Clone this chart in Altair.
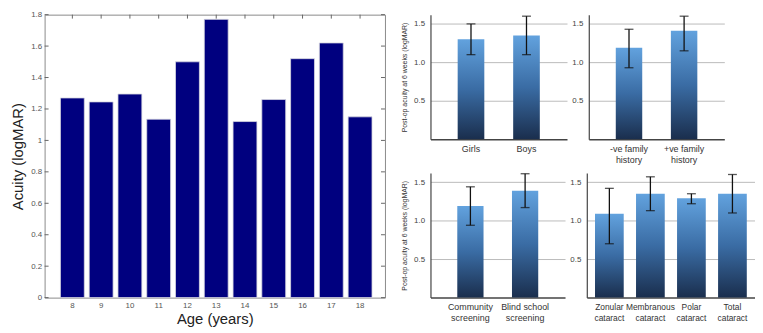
import altair as alt
import pandas as pd

# ---- left chart data ----
ages = [8, 9, 10, 11, 12, 13, 14, 15, 16, 17, 18]
acuity = [1.27, 1.245, 1.295, 1.135, 1.50, 1.77, 1.12, 1.26, 1.52, 1.62, 1.15]
y_ticks = [0, 0.2, 0.4, 0.6, 0.8, 1.0, 1.2, 1.4, 1.6, 1.8]

# ---- right panels data ----
sex_cats = ["Girls", "Boys"]
sex_mean = [1.30, 1.35]
sex_lo = [1.10, 1.10]
sex_hi = [1.50, 1.60]

fam_cats = ["-ve family history", "+ve family history"]
fam_mean = [1.19, 1.41]
fam_lo = [0.93, 1.15]
fam_hi = [1.43, 1.60]

scr_cats = ["Community screening", "Blind school screening"]
scr_mean = [1.19, 1.39]
scr_lo = [0.94, 1.17]
scr_hi = [1.44, 1.61]

cat_cats = ["Zonular cataract", "Membranous cataract", "Polar cataract", "Total cataract"]
cat_mean = [1.09, 1.35, 1.29, 1.35]
cat_lo = [0.70, 1.13, 1.22, 1.10]
cat_hi = [1.42, 1.57, 1.35, 1.60]

FONT = "Liberation Sans"
LW, LH = 344, 286

left_df = pd.DataFrame({"age": ages, "acuity": acuity})
tick_df = pd.DataFrame({"acuity": y_ticks})

xscale_left = alt.Scale(paddingInner=0.17, paddingOuter=0.5, align=0.55)
yscale_left = alt.Scale(domain=[0, 1.8], nice=False)
xaxis_left = alt.Axis(labelAngle=0, labelFontSize=8, labelColor="#555",
                      titleFontSize=15, titleFontWeight="normal", titleColor="#222",
                      titlePadding=2, tickSize=0, domain=False, labelPadding=4)
yaxis_left = alt.Axis(values=y_ticks, labelOverlap=False,
                      format=".2~f", labelFontSize=8, labelColor="#555",
                      titleFontSize=15, titleFontWeight="normal", titleColor="#222",
                      tickSize=0, domain=False, grid=False, titlePadding=5, labelPadding=3)
X_LEFT = alt.X("age:O", title="Age (years)", scale=xscale_left, axis=xaxis_left)
Y_LEFT = alt.Y("acuity:Q", title="Acuity (logMAR)", scale=yscale_left, axis=yaxis_left)

left_bars = alt.Chart(left_df).mark_bar(
    color="#00007f", stroke="#d8d8e0", strokeWidth=0.8
).encode(x=X_LEFT, y=Y_LEFT)
top_ticks = alt.Chart(left_df).mark_rule(color="#666", strokeWidth=1).encode(
    x=X_LEFT, y=alt.value(0), y2=alt.value(4))
left_ticks = alt.Chart(tick_df).mark_rule(color="#666", strokeWidth=1).encode(
    x=alt.value(0), x2=alt.value(4), y=Y_LEFT)
right_ticks = alt.Chart(tick_df).mark_rule(color="#666", strokeWidth=1).encode(
    x=alt.value(LW - 4), x2=alt.value(LW), y=Y_LEFT)

left = alt.layer(left_bars, top_ticks, left_ticks, right_ticks).properties(
    width=LW, height=LH, view=alt.ViewBackground(stroke="#8a8a8a", strokeWidth=1)
)

grad = alt.Gradient(
    gradient="linear",
    stops=[alt.GradientStop(color="#1a2e4d", offset=0),
           alt.GradientStop(color="#3a6ca4", offset=0.5),
           alt.GradientStop(color="#62a2de", offset=1)],
    x1=0, x2=0, y1=1, y2=0,
)

label_expr = ("indexof(datum.label, ' ') < 0 ? datum.label : "
              "[substring(datum.label, 0, lastindexof(datum.label, ' ')), "
              "substring(datum.label, lastindexof(datum.label, ' ') + 1)]")


def panel(cats, mean, lo, hi, width, pin, pout, ytitle, lfs=9):
    df = pd.DataFrame({"cat": cats, "mean": mean, "lo": lo, "hi": hi})
    xenc = alt.X("cat:N", sort=cats, title=None,
                 scale=alt.Scale(paddingInner=pin, paddingOuter=pout),
                 axis=alt.Axis(labelAngle=0, labelFontSize=lfs, labelColor="#333",
                               labelExpr=label_expr, tickSize=0, domainColor="#444",
                               domainWidth=1.5, labelPadding=5, labelLineHeight=11))
    yscale = alt.Scale(domain=[0, 1.62], nice=False)
    yaxis = alt.Axis(values=[0.5, 1.0, 1.5], format=".1f", labelFontSize=8,
                     labelColor="#444", tickSize=0, domainColor="#444",
                     domainWidth=1.2, grid=True, gridColor="#bbbbbb", labelPadding=6,
                     titleFontSize=7, titleFontWeight="normal", titleColor="#333",
                     titlePadding=6)
    if ytitle:
        y = alt.Y("mean:Q", title=ytitle, scale=yscale, axis=yaxis)
    else:
        y = alt.Y("mean:Q", title=None, scale=yscale, axis=yaxis)
    base = alt.Chart(df)
    bars = base.mark_bar(color=grad).encode(x=xenc, y=y)
    rule = base.mark_rule(color="#111", strokeWidth=1.3).encode(
        x=alt.X("cat:N", sort=cats), y="lo:Q", y2="hi:Q")
    cap_hi = base.mark_tick(color="#111", size=9, thickness=1.3, orient="horizontal").encode(
        x=alt.X("cat:N", sort=cats), y="hi:Q")
    cap_lo = base.mark_tick(color="#111", size=9, thickness=1.3, orient="horizontal").encode(
        x=alt.X("cat:N", sort=cats), y="lo:Q")
    return alt.layer(bars, rule, cap_hi, cap_lo).properties(
        width=width, height=126, view=alt.ViewBackground(stroke=None))


YT = "Post-op acuity at 6 weeks (logMAR)"
p1 = panel(sex_cats, sex_mean, sex_lo, sex_hi, 138, 0.52, 0.49, YT)
p2 = panel(fam_cats, fam_mean, fam_lo, fam_hi, 137, 0.52, 0.49, None)
p3 = panel(scr_cats, scr_mean, scr_lo, scr_hi, 136, 0.52, 0.49, YT)
p4 = panel(cat_cats, cat_mean, cat_lo, cat_hi, 170, 0.3, 0.2, None, lfs=8.5)

right = alt.vconcat(
    alt.hconcat(p1, p2, spacing=4),
    alt.hconcat(p3, p4, spacing=4),
    spacing=9,
)

chart = alt.hconcat(left, right, spacing=14).configure(
    font=FONT, padding={"left": 2, "top": 0, "right": 0, "bottom": 0}
).configure_axis(grid=False)

chart.save("out.html", embed_options={"renderer": "svg", "actions": False})
